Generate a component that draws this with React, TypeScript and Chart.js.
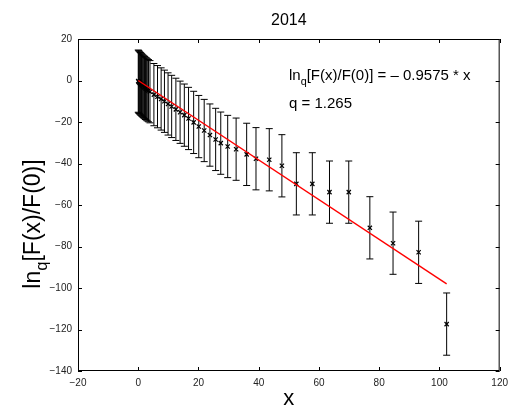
import { useEffect, useRef } from "react";
import { Chart, registerables } from "chart.js";

Chart.register(...registerables);

const titleText = "2014";
const xValues = [
  0, 0.15, 0.3, 0.5, 0.7, 0.9, 1.1, 1.35, 1.6, 1.85, 2.1, 2.4, 2.7, 3.0, 3.4, 3.9,
  5.2, 6.4, 7.6, 8.7, 9.9, 11.1, 12.5, 13.9, 15.3, 16.7, 18.4, 20.1, 21.9, 23.8,
  25.7, 27.4, 29.7, 32.5, 36.0, 39.1, 43.5, 47.7, 52.5, 57.8, 63.5, 69.9, 76.9,
  84.6, 93.1, 102.4,
];
const yValues = [
  -0.3, -0.6, -0.9, -1.2, -1.5, -1.8, -2.1, -2.4, -2.8, -3.1, -3.4, -3.8, -4.1, -4.5, -4.9, -5.4,
  -6.8, -7.8, -8.9, -10.0, -11.3, -12.5, -13.9, -15.3, -16.7, -18.3, -20.2, -22.2, -24.1, -26.3,
  -28.4, -30.2, -31.8, -33.1, -35.6, -37.7, -38.2, -41.1, -49.8, -49.8, -53.8, -53.8, -71.0,
  -78.4, -82.8, -117.4,
];
const errorHalf = 15;
const fitSlope = -0.9575;
const fitX = [0, 102.4];
const qValue = "1.265";
const xTicks = [-20, 0, 20, 40, 60, 80, 100, 120];
const yTicks = [-140, -120, -100, -80, -60, -40, -20, 0, 20];

const FONT = '"Liberation Sans", Arial, Helvetica, sans-serif';

function drawLnq(ctx: CanvasRenderingContext2D, x: number, y: number, size: number, rest: string, measureOnly = false): number {
  ctx.font = `${size}px ${FONT}`;
  const w1 = ctx.measureText("ln").width;
  const subSize = size * 0.72;
  ctx.font = `${subSize}px ${FONT}`;
  const w2 = ctx.measureText("q").width;
  ctx.font = `${size}px ${FONT}`;
  const w3 = ctx.measureText(rest).width;
  if (!measureOnly) {
    ctx.fillText("ln", x, y);
    ctx.font = `${subSize}px ${FONT}`;
    ctx.fillText("q", x + w1, y + size * 0.32);
    ctx.font = `${size}px ${FONT}`;
    ctx.fillText(rest, x + w1 + w2, y);
  }
  return w1 + w2 + w3;
}

const errorBarPlugin = {
  id: "errorBars",
  beforeDatasetsDraw(chart: any) {
    const { ctx, scales } = chart;
    const xs = scales.x;
    const ys = scales.y;
    ctx.save();
    ctx.strokeStyle = "#000";
    ctx.lineWidth = 1;
    xValues.forEach((xv, i) => {
      const px = xs.getPixelForValue(xv);
      const top = ys.getPixelForValue(yValues[i] + errorHalf);
      const bot = ys.getPixelForValue(yValues[i] - errorHalf);
      ctx.beginPath();
      ctx.moveTo(px, top);
      ctx.lineTo(px, bot);
      ctx.moveTo(px - 3.5, top);
      ctx.lineTo(px + 3.5, top);
      ctx.moveTo(px - 3.5, bot);
      ctx.lineTo(px + 3.5, bot);
      ctx.stroke();
    });
    ctx.restore();
  },
};

const decorPlugin = {
  id: "decor",
  afterDraw(chart: any) {
    const { ctx, chartArea, scales } = chart;
    const xs = scales.x;
    const ys = scales.y;
    const { left, right, top, bottom } = chartArea;
    ctx.save();
    ctx.strokeStyle = "#000";
    ctx.lineWidth = 1;
    ctx.strokeRect(left + 0.5, top + 0.5, right - left - 1, bottom - top - 1);
    const tl = 4;
    ctx.beginPath();
    xTicks.forEach((v) => {
      const px = Math.round(xs.getPixelForValue(v)) + 0.5;
      ctx.moveTo(px, bottom);
      ctx.lineTo(px, bottom - tl);
      ctx.moveTo(px, top);
      ctx.lineTo(px, top + tl);
    });
    yTicks.forEach((v) => {
      const py = Math.round(ys.getPixelForValue(v)) + 0.5;
      ctx.moveTo(left, py);
      ctx.lineTo(left + tl, py);
      ctx.moveTo(right, py);
      ctx.lineTo(right - tl, py);
    });
    ctx.stroke();

    ctx.fillStyle = "#000";
    // title
    ctx.font = `16px ${FONT}`;
    ctx.textAlign = "center";
    ctx.textBaseline = "alphabetic";
    ctx.fillText(titleText, (left + right) / 2, 25);
    // x title
    ctx.font = `22px ${FONT}`;
    ctx.fillText("x", (left + right) / 2, 405);
    // y title
    ctx.textAlign = "left";
    ctx.save();
    ctx.translate(40, 224);
    ctx.rotate(-Math.PI / 2);
    const wy = drawLnq(ctx, 0, 0, 23, "[F(x)/F(0)]", true);
    drawLnq(ctx, -wy / 2, 0, 23, "[F(x)/F(0)]");
    ctx.restore();
    // annotation
    drawLnq(ctx, 289, 80, 15, "[F(x)/F(0)] = \u2013 0.9575 * x");
    ctx.font = `15px ${FONT}`;
    ctx.fillText(`q = ${qValue}`, 289, 108);
    ctx.restore();
  },
};

export default function App() {
  const ref = useRef<HTMLCanvasElement>(null);
  useEffect(() => {
    if (!ref.current) return;
    const points = xValues.map((x, i) => ({ x, y: yValues[i] }));
    const fit = fitX.map((x) => ({ x, y: fitSlope * x }));
    const tickFont = { family: FONT, size: 10 };
    const chart = new Chart(ref.current, {
      type: "scatter",
      data: {
        datasets: [
          {
            data: fit,
            type: "line",
            borderColor: "#ff0000",
            borderWidth: 1.4,
            pointRadius: 0,
            showLine: true,
            order: 0,
          } as any,
          {
            data: points,
            pointStyle: "crossRot",
            pointRadius: 3,
            borderColor: "#000",
            backgroundColor: "#000",
            borderWidth: 1.2,
            order: 1,
          },
        ],
      },
      options: {
        responsive: false,
        animation: false,
        layout: { padding: { left: 0, right: 13, top: 39, bottom: 0 } },
        plugins: { legend: { display: false }, tooltip: { enabled: false }, title: { display: false } },
        scales: {
          x: {
            type: "linear",
            min: -20,
            max: 120,
            grid: { display: false, drawTicks: false },
            border: { display: false },
            ticks: {
              stepSize: 20,
              font: tickFont,
              color: "#222",
              padding: 6,
              maxRotation: 0,
              callback: (v: any) => String(v).replace("-", "\u2212"),
            },
            afterFit: (s: any) => {
              s.height = 41;
            },
          },
          y: {
            type: "linear",
            min: -140,
            max: 20,
            grid: { display: false, drawTicks: false },
            border: { display: false },
            ticks: {
              stepSize: 20,
              font: tickFont,
              color: "#222",
              padding: 6,
              callback: (v: any) => String(v).replace("-", "\u2212"),
            },
            afterFit: (s: any) => {
              s.width = 78;
            },
          },
        },
      },
      plugins: [errorBarPlugin, decorPlugin],
    });
    return () => chart.destroy();
  }, []);
  return (
    <div style={{ position: "absolute", left: 0, top: 0, width: 514, height: 412, background: "#fff" }}>
      <canvas ref={ref} width={514} height={412} style={{ width: 514, height: 412 }} />
    </div>
  );
}
